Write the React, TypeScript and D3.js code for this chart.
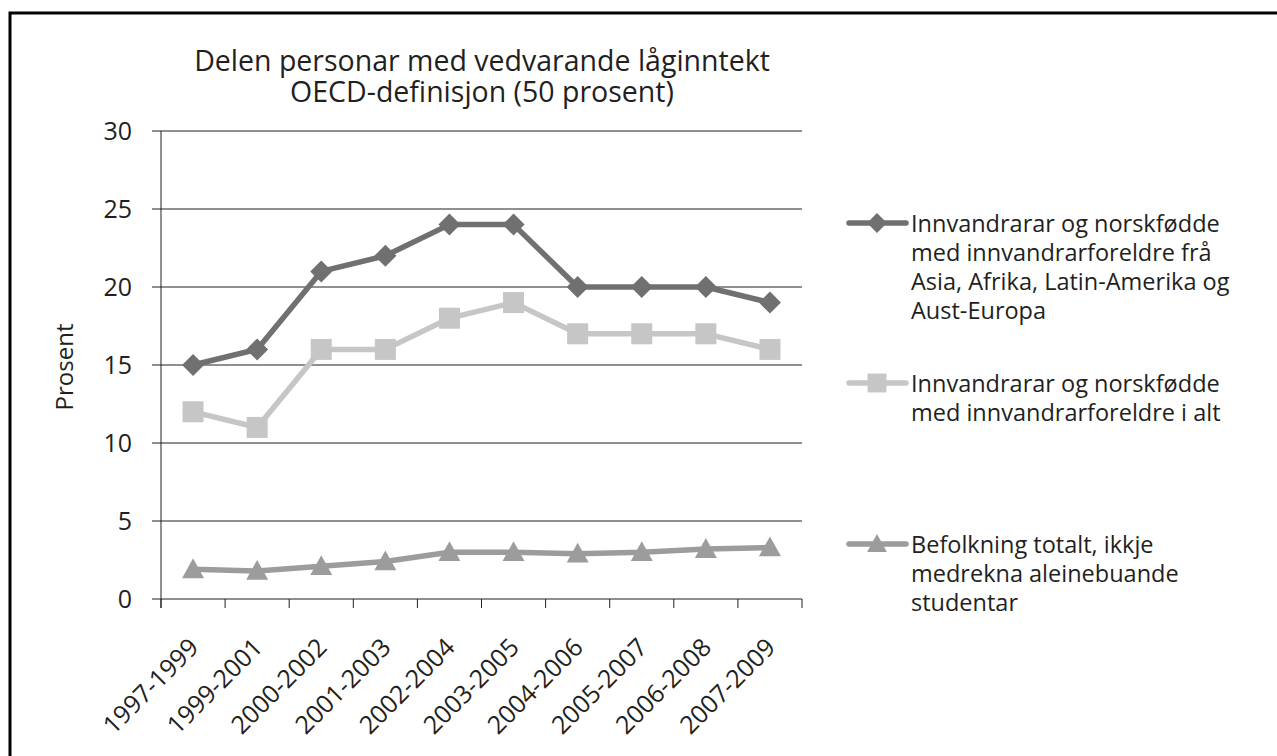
import React, { useRef, useEffect } from "react";
import * as d3 from "d3";

const categories = ["1997-1999", "1999-2001", "2000-2002", "2001-2003", "2002-2004", "2003-2005", "2004-2006", "2005-2007", "2006-2008", "2007-2009"];
const asiaAfrika = [15, 16, 21, 22, 24, 24, 20, 20, 20, 19];
const innvandrarIAlt = [12, 11, 16, 16, 18, 19, 17, 17, 17, 16];
const befolkning = [1.9, 1.8, 2.1, 2.4, 3.0, 3.0, 2.9, 3.0, 3.2, 3.3];
const yTicks = [0, 5, 10, 15, 20, 25, 30];
const titleLines = ["Delen personar med vedvarande låginntekt", "OECD-definisjon (50 prosent)"];
const legendLabels = [
  ["Innvandrarar og norskfødde", "med innvandrarforeldre frå", "Asia, Afrika, Latin-Amerika og", "Aust-Europa"],
  ["Innvandrarar og norskfødde", "med innvandrarforeldre i alt"],
  ["Befolkning totalt, ikkje", "medrekna aleinebuande", "studentar"],
];

const FONT = "'Open Sans', sans-serif";

// marker paths centred at 0,0
const markerPath = (kind: string, s: number) => {
  if (kind === "diamond") return `M0,${-s}L${s},0L0,${s}L${-s},0Z`;
  if (kind === "square") return `M${-s},${-s}H${s}V${s}H${-s}Z`;
  return `M0,${-s}L${s},${s * 0.8}H${-s}Z`;
};

const App = () => {
  const svgRef = useRef(null);

  useEffect(() => {
    const svg = d3.select(svgRef.current);
    svg.selectAll("*").remove();

    const left = 161, right = 802, top = 131, bottom = 599;
    const x = d3.scaleBand().domain(categories).range([left, right]).padding(0);
    const y = d3.scaleLinear().domain([0, 30]).range([bottom, top]);

    // outer frame
    svg.append("rect")
      .attr("x", 10).attr("y", 13)
      .attr("width", 1400).attr("height", 900)
      .attr("fill", "white").attr("stroke", "black").attr("stroke-width", 3);

    // title
    const title = svg.append("text")
      .attr("font-family", FONT).attr("font-size", 28.5).attr("fill", "#231f20")
      .attr("text-anchor", "middle");
    titleLines.forEach((t, i) => {
      title.append("tspan").attr("x", 482).attr("y", 71 + i * 31).text(t);
    });

    // gridlines
    svg.append("g").selectAll("line").data(yTicks).join("line")
      .attr("x1", left - 9).attr("x2", right)
      .attr("y1", (d) => y(d)).attr("y2", (d) => y(d))
      .attr("stroke", "#231f20").attr("stroke-width", 1);

    // y axis labels
    svg.append("g").selectAll("text").data(yTicks).join("text")
      .attr("x", 132).attr("y", (d) => y(d)).attr("dy", "0.36em")
      .attr("text-anchor", "end")
      .attr("font-family", FONT).attr("font-size", 25).attr("fill", "#231f20")
      .text((d) => d);

    // y axis line
    svg.append("line")
      .attr("x1", left).attr("x2", left).attr("y1", top).attr("y2", bottom + 9)
      .attr("stroke", "#231f20").attr("stroke-width", 1);

    // x ticks
    const tickPos = categories.map((c) => x(c)).concat([right]);
    svg.append("g").selectAll("line").data(tickPos).join("line")
      .attr("x1", (d) => d).attr("x2", (d) => d)
      .attr("y1", bottom).attr("y2", bottom + 9)
      .attr("stroke", "#231f20").attr("stroke-width", 1);

    // x labels
    svg.append("g").selectAll("text").data(categories).join("text")
      .attr("transform", (d) => `translate(${x(d) + x.bandwidth() / 2 + 7},${bottom + 50}) rotate(-45)`)
      .attr("text-anchor", "end")
      .attr("font-family", FONT).attr("font-size", 25).attr("fill", "#231f20")
      .text((d) => d);

    // y title
    svg.append("text")
      .attr("transform", `translate(73,367) rotate(-90)`)
      .attr("text-anchor", "middle")
      .attr("font-family", FONT).attr("font-size", 24).attr("fill", "#231f20")
      .text("Prosent");

    const series = [
      { values: asiaAfrika, color: "#707070", marker: "diamond", size: 11 },
      { values: innvandrarIAlt, color: "#c6c6c6", marker: "square", size: 10.5 },
      { values: befolkning, color: "#9c9c9c", marker: "triangle", size: 11 },
    ];

    const line = d3.line<number>()
      .x((_, i) => x(categories[i]) + x.bandwidth() / 2)
      .y((d) => y(d));

    series.forEach((s) => {
      const g = svg.append("g");
      g.append("path").datum(s.values).attr("d", line)
        .attr("fill", "none").attr("stroke", s.color).attr("stroke-width", 5.5)
        .attr("stroke-linejoin", "round");
      g.selectAll("path.m").data(s.values).join("path").attr("class", "m")
        .attr("transform", (d, i) => `translate(${x(categories[i]) + x.bandwidth() / 2},${y(d)})`)
        .attr("d", markerPath(s.marker, s.size))
        .attr("fill", s.color);
    });

    // legend
    const legendY = [223, 383, 544];
    series.forEach((s, i) => {
      const g = svg.append("g").attr("transform", `translate(0,${legendY[i]})`);
      g.append("line").attr("x1", 849).attr("x2", 906).attr("y1", 0).attr("y2", 0)
        .attr("stroke", s.color).attr("stroke-width", 5.5).attr("stroke-linecap", "round");
      g.append("path").attr("transform", "translate(877,0)")
        .attr("d", markerPath(s.marker, s.size * 0.9)).attr("fill", s.color);
      const t = g.append("text").attr("font-family", FONT).attr("font-size", 23.5).attr("fill", "#231f20");
      legendLabels[i].forEach((l, j) => {
        t.append("tspan").attr("x", 911).attr("y", 9 + j * 29).text(l);
      });
    });
  }, []);

  return (
    <div>
      <svg ref={svgRef} width={1277} height={756} style={{ position: "absolute", left: 0, top: 0 }} />
    </div>
  );
};

export default App;
